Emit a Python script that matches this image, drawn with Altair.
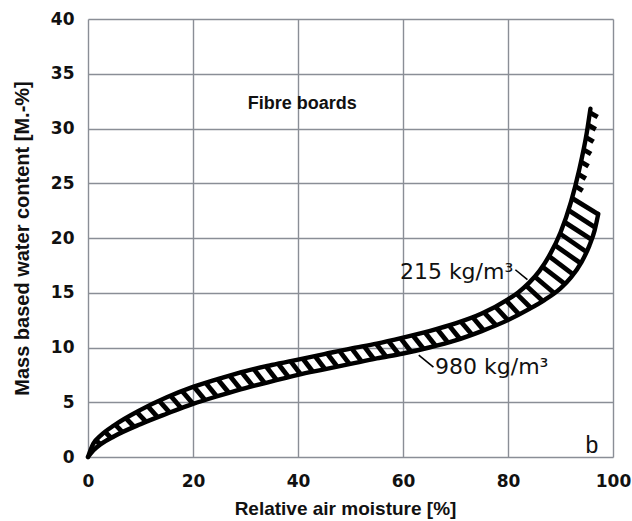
import numpy as np
import pandas as pd
import altair as alt

# Sorption isotherms of fibre boards: relative air moisture [%] -> water content [M.-%]
rh_215 = [0, 1, 2.5, 5, 10, 15, 20, 25, 30, 35, 40, 45, 50, 55, 60, 65, 70, 75,
          80, 82, 84, 86, 88, 90, 92, 93.5, 95, 95.7]
wc_215 = [0, 1.2, 2.0, 2.9, 4.3, 5.45, 6.4, 7.15, 7.85, 8.4, 8.9, 9.4, 9.9, 10.35, 10.9,
          11.5, 12.2, 13.1, 14.4, 15.05, 15.9, 17.0, 18.5, 20.5, 23.3, 26.1, 29.6, 31.8]

rh_980 = [0, 1, 2.5, 5, 10, 15, 20, 25, 30, 35, 40, 45, 50, 55, 60, 65, 70, 75,
          80, 84, 87, 90, 92, 94, 95.5, 96.5, 97.2]
wc_980 = [0, 0.6, 1.2, 1.9, 3.0, 3.95, 4.85, 5.6, 6.3, 6.9, 7.5, 8.0, 8.5, 9.0, 9.45,
          10.0, 10.65, 11.5, 12.5, 13.5, 14.35, 15.4, 16.4, 17.8, 19.3, 20.7, 22.2]

x_ticks = [0, 20, 40, 60, 80, 100]
y_ticks = [0, 5, 10, 15, 20, 25, 30, 35, 40]

# annotation texts and anchors (data coordinates)
density_labels = ["215 kg/m³", "980 kg/m³"]
label_x = [81.0, 66.1]
label_y = [16.9, 8.2]
leader_x = [81.4, 63.0]
leader_y = [17.1, 9.3]
leader_x2 = [83.7, 65.8]
leader_y2 = [16.2, 8.2]
material = "Fibre boards"
panel = "b"

W, H = 525, 438
X_MAX, Y_MAX = 100, 40
SX, SY = W / X_MAX, H / Y_MAX

# ---- hatching between the two isotherms (computed in screen pixels) ----
ux, uy = np.array(rh_215) * SX, np.array(wc_215) * SY
lx, ly = np.array(rh_980) * SX, np.array(wc_980) * SY
arc = np.concatenate([[0], np.cumsum(np.hypot(np.diff(ux), np.diff(uy)))])
steps = np.arange(6, arc[-1] - 2, 12.5)

ax_, ay_ = lx[:-1], ly[:-1]
ex, ey = lx[1:] - ax_, ly[1:] - ay_
fixed = np.array([np.cos(np.radians(-40)), np.sin(np.radians(-40))])

rows = []
for s in steps:
    px, py = np.interp(s, arc, ux), np.interp(s, arc, uy)
    tx = np.interp(s + 3, arc, ux) - np.interp(s - 3, arc, ux)
    ty = np.interp(s + 3, arc, uy) - np.interp(s - 3, arc, uy)
    tn = np.hypot(tx, ty)
    n = np.array([ty / tn, -tx / tn])
    d = 0.5 * n + fixed
    d /= np.hypot(*d)
    den = d[0] * ey - d[1] * ex
    rx, ry = ax_ - px, ay_ - py
    with np.errstate(divide="ignore", invalid="ignore"):
        t = (rx * ey - ry * ex) / den
        u = (rx * d[1] - ry * d[0]) / den
    ok = (u >= 0) & (u <= 1) & (t > 0) & (t < 80)
    length = t[ok].min() if ok.any() else 9.0
    qx, qy = px + length * d[0], py + length * d[1]
    rows.append({"x": px / SX, "y": py / SY, "x2": qx / SX, "y2": qy / SY})
hatch = pd.DataFrame(rows)

curves = pd.concat([
    pd.DataFrame({"rh": rh_215, "wc": wc_215, "board": "215"}),
    pd.DataFrame({"rh": rh_980, "wc": wc_980, "board": "980"}),
])

xs = alt.Scale(domain=[0, X_MAX], nice=False, zero=False)
ys = alt.Scale(domain=[0, Y_MAX], nice=False, zero=False)

FONT = "Liberation Sans"
TICK_FONT = "DejaVu Sans"

x_axis = alt.Axis(values=x_ticks, title="Relative air moisture [%]", grid=True,
                  domain=False, ticks=False, labelPadding=16, labelFlush=False,
                  labelFont=TICK_FONT, labelFontWeight="bold", labelFontSize=17,
                  labelColor="#111", titleFont=FONT, titleFontSize=19,
                  titleFontWeight="bold", titleColor="#111",
                  titleX=257, titleY=51, titleBaseline="middle")
y_axis = alt.Axis(values=y_ticks, title="Mass based water content [M.-%]", grid=True,
                  domain=False, ticks=False, labelPadding=14, labelFlush=False,
                  labelFont=TICK_FONT, labelFontWeight="bold", labelFontSize=17,
                  labelColor="#111", titleFont=FONT, titleFontSize=20,
                  titleFontWeight="bold", titleColor="#111",
                  titleX=-66, titleY=219, titleAngle=270,
                  titleBaseline="middle", titleAlign="center")

base = alt.Chart(hatch).mark_rule(color="black", strokeWidth=4.8).encode(
    x=alt.X("x:Q", scale=xs, axis=x_axis),
    y=alt.Y("y:Q", scale=ys, axis=y_axis),
    x2="x2:Q",
    y2="y2:Q",
)

lines = alt.Chart(curves).mark_line(color="black", strokeWidth=4.4,
                                    interpolate="monotone", strokeCap="round").encode(
    x=alt.X("rh:Q", scale=xs),
    y=alt.Y("wc:Q", scale=ys),
    detail="board:N",
)

leaders = alt.Chart(pd.DataFrame({"x": leader_x, "y": leader_y,
                                  "x2": leader_x2, "y2": leader_y2})).mark_rule(
    color="black", strokeWidth=1.6).encode(
    x=alt.X("x:Q", scale=xs), y=alt.Y("y:Q", scale=ys), x2="x2:Q", y2="y2:Q")

lab215 = alt.Chart(pd.DataFrame({"x": [label_x[0]], "y": [label_y[0]],
                                 "t": [density_labels[0]]})).mark_text(
    font="DejaVu Sans", fontSize=22, align="right", baseline="middle", color="#111").encode(
    x=alt.X("x:Q", scale=xs), y=alt.Y("y:Q", scale=ys), text="t:N")

lab980 = alt.Chart(pd.DataFrame({"x": [label_x[1]], "y": [label_y[1]],
                                 "t": [density_labels[1]]})).mark_text(
    font="DejaVu Sans", fontSize=22, align="left", baseline="middle", color="#111").encode(
    x=alt.X("x:Q", scale=xs), y=alt.Y("y:Q", scale=ys), text="t:N")

title_txt = alt.Chart(pd.DataFrame({"x": [40.8], "y": [32.2], "t": [material]})).mark_text(
    font=FONT, fontSize=18, fontWeight="bold", align="center", baseline="middle",
    color="#111").encode(
    x=alt.X("x:Q", scale=xs), y=alt.Y("y:Q", scale=ys), text="t:N")

panel_txt = alt.Chart(pd.DataFrame({"x": [96.0], "y": [0.4], "t": [panel]})).mark_text(
    font=FONT, fontSize=23, align="center", baseline="alphabetic", color="#111").encode(
    x=alt.X("x:Q", scale=xs), y=alt.Y("y:Q", scale=ys), text="t:N")

chart = alt.layer(base, lines, leaders, lab215, lab980, title_txt, panel_txt).properties(
    width=W, height=H,
    padding={"left": 88, "top": 19, "right": 19, "bottom": 64},
    autosize=alt.AutoSizeParams(type="none"),
    background="white",
).configure_axis(
    gridColor="#8a8e96", gridWidth=1.4, gridOpacity=1,
).configure_view(stroke=None)

chart.save("out.html", embed_options={"renderer": "svg", "actions": False})
